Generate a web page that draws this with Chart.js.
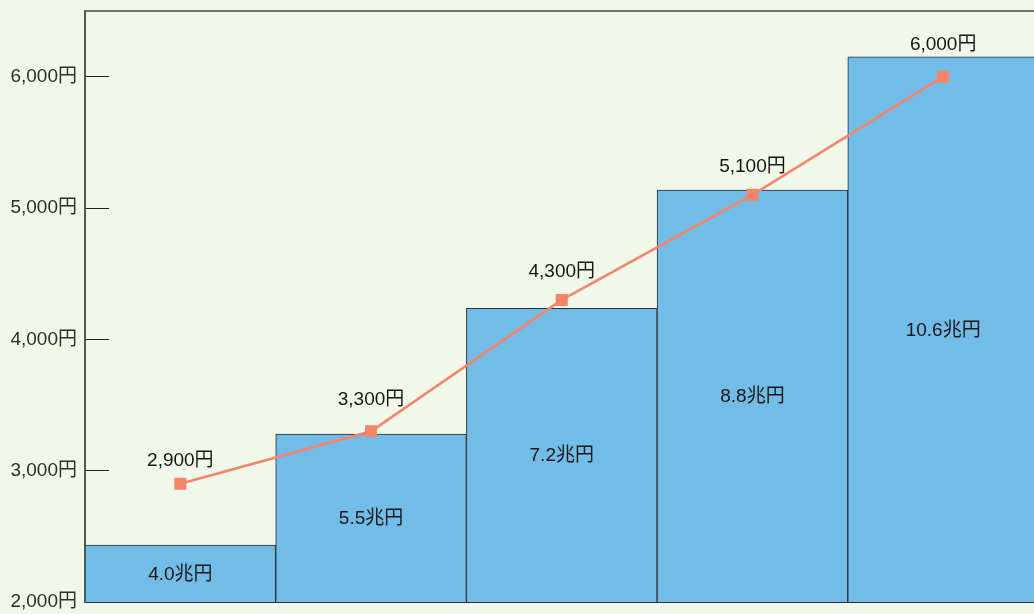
<!DOCTYPE html>
<html lang="ja">
<head>
<meta charset="utf-8">
<script src="https://cdn.jsdelivr.net/npm/chart.js@4/dist/chart.umd.min.js"></script>
<style>
  html, body { margin: 0; padding: 0; background: #f1f7e9; overflow: hidden; }
  #wrap { width: 1047px; height: 614px; position: relative; }
</style>
</head>
<body>
<div id="wrap"><canvas id="chart"></canvas></div>
<script>
// Data
const categories = ['1', '2', '3', '4', '5'];
const barValues = [4.0, 5.5, 7.2, 8.8, 10.6];      // 兆円
const lineValues = [2900, 3300, 4300, 5100, 6000];  // 円
const yTicks = [2000, 3000, 4000, 5000, 6000];

// how far each line label sits above its point (px)
const labelLift = [23, 32, 28, 28, 32];

const FONT = '"Liberation Sans", Arial, "Noto Sans CJK JP", sans-serif';
const yen = (v) => v.toLocaleString('en-US') + '円';

// no extra room around the plot: the frame sits where the picture has it
const noPad = (scale) => {
  scale.paddingTop = 0;
  scale.paddingBottom = 0;
  scale.paddingLeft = 0;
  scale.paddingRight = 0;
};

// Draw value labels over bars and above line points
const valueLabels = {
  id: 'valueLabels',
  afterDatasetsDraw(chart) {
    const ctx = chart.ctx;
    const bottom = chart.chartArea.bottom;
    ctx.save();
    ctx.font = `19px ${FONT}`;
    ctx.fillStyle = '#161616';
    ctx.textAlign = 'center';
    ctx.textBaseline = 'middle';

    chart.getDatasetMeta(1).data.forEach((bar, i) => {
      const mid = (bar.y + Math.min(bar.base, bottom)) / 2;
      ctx.fillText(barValues[i].toFixed(1) + '兆円', bar.x, mid + 1);
    });

    chart.getDatasetMeta(0).data.forEach((pt, i) => {
      ctx.fillText(yen(lineValues[i]), pt.x, pt.y - labelLift[i]);
    });
    ctx.restore();
  },
};

new Chart(document.getElementById('chart'), {
  data: {
    labels: categories,
    datasets: [
      // Orange line (drawn on top)
      {
        type: 'line',
        data: lineValues,
        yAxisID: 'y',
        borderColor: '#f4846a',
        borderWidth: 2.5,
        tension: 0,
        pointStyle: 'rect',
        pointRadius: 8.5,
        pointBackgroundColor: '#f4846a',
        pointBorderWidth: 0,
        order: 0,
      },
      // Blue bars
      {
        type: 'bar',
        data: barValues,
        yAxisID: 'y2',
        backgroundColor: '#72bce8',
        borderColor: '#2b2f33',
        borderWidth: 1,
        borderSkipped: false,
        barPercentage: 1,
        categoryPercentage: 1,
        order: 1,
      },
    ],
  },
  options: {
    animation: false,
    responsive: true,
    maintainAspectRatio: false,
    layout: { padding: 0 },
    scales: {
      x: {
        position: 'bottom',
        offset: true,
        grid: { display: false, drawTicks: false },
        ticks: { display: false },
        border: { display: true, color: '#263238', width: 2 },
        afterFit: (scale) => { scale.height = 12; noPad(scale); },
      },
      xTop: {
        type: 'category',
        position: 'top',
        offset: true,
        grid: { display: false, drawTicks: false },
        ticks: { display: false },
        border: { display: true, color: '#6e7265', width: 2 },
        afterFit: (scale) => { scale.height = 11; noPad(scale); },
      },
      y: {
        position: 'left',
        min: 2000,
        max: 6500,
        afterBuildTicks: (scale) => { scale.ticks = yTicks.map((v) => ({ value: v })); },
        grid: { drawOnChartArea: false, drawTicks: true, tickLength: -24, color: '#222', lineWidth: 1 },
        border: { display: true, color: '#555a50', width: 2 },
        ticks: {
          padding: 32,
          color: '#2e2e2e',
          font: { family: FONT, size: 19 },
          callback: (v) => yen(v),
        },
        afterFit: (scale) => { scale.width = 85; noPad(scale); },
      },
      y2: {
        display: false,
        min: 3.23,
        max: 11.22,
      },
    },
    plugins: {
      legend: { display: false },
      tooltip: { enabled: false },
    },
  },
  plugins: [valueLabels],
});
</script>
</body>
</html>
